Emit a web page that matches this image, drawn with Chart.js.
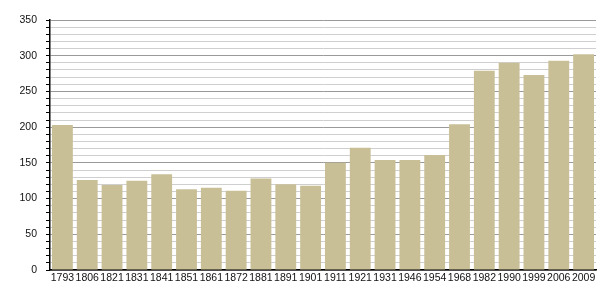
<!DOCTYPE html>
<html>
<head>
<meta charset="utf-8">
<script src="https://cdn.jsdelivr.net/npm/chart.js@4"></script>
<style>
  html, body { margin: 0; padding: 0; background: #fff; }
  #wrap { width: 605px; height: 300px; }
</style>
</head>
<body>
<div id="wrap"><canvas id="chart" width="605" height="300"></canvas></div>
<script>
// annees du recensement
const annees = ['1793', '1806', '1821', '1831', '1841', '1851', '1861', '1872', '1881', '1891', '1901',
  '1911', '1921', '1931', '1946', '1954', '1968', '1982', '1990', '1999', '2006', '2009']
// population
const habitants = [203, 126, 119, 125, 134, 113, 115, 111, 128, 120, 118,
  150, 171, 154, 154, 161, 204, 279, 290, 273, 293, 302]
const yMax = 350
const yPas = 10

const ctx = document.getElementById('chart')

new Chart(ctx, {
  type: 'bar',
  data: {
    labels: annees,
    datasets: [{
      data: habitants,
      backgroundColor: '#c9bf97',
      borderWidth: 0,
      barPercentage: 0.84,
      categoryPercentage: 1
    }]
  },
  options: {
    responsive: false,
    animation: false,
    layout: { padding: { top: 20, right: 9, left: 0, bottom: 0 } },
    plugins: { legend: { display: false }, tooltip: { enabled: false } },
    scales: {
      x: {
        afterFit: (s) => { s.height = 30 },
        grid: { display: false, drawTicks: false },
        border: { color: '#000', width: 1.5 },
        ticks: {
          color: '#111',
          font: { family: 'Liberation Sans, Arial, sans-serif', size: 10.5 },
          padding: 2,
          maxRotation: 0,
          autoSkip: false
        }
      },
      y: {
        min: 0,
        max: yMax,
        afterFit: (s) => { s.width = 50 },
        border: { color: '#000', width: 1.5 },
        grid: {
          color: (c) => (c.tick && c.tick.value % 50 === 0) ? '#9a9a9a' : '#cfcfcf',
          tickColor: '#000',
          tickLength: 4,
          lineWidth: 1
        },
        ticks: {
          stepSize: yPas,
          autoSkip: false,
          color: '#111',
          padding: 9,
          font: { family: 'Liberation Sans, Arial, sans-serif', size: 10.5 },
          callback: (v) => v % 50 === 0 ? v : ''
        }
      }
    }
  }
})
</script>
</body>
</html>
